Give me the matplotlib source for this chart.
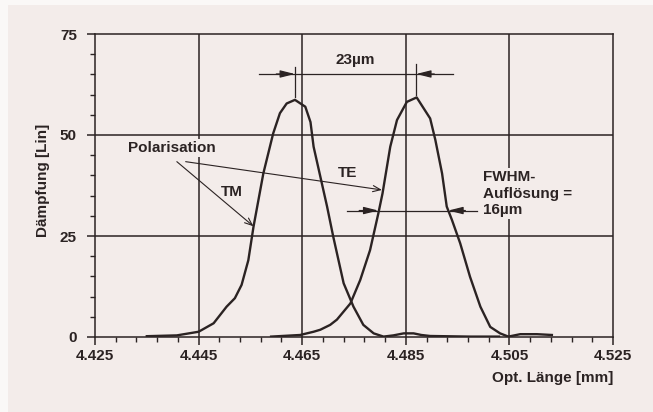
import matplotlib
matplotlib.use("Agg")
import matplotlib.pyplot as plt
from matplotlib.patches import Rectangle

# ---- data ----
tm_x = [4.4350, 4.4408, 4.4450, 4.4479, 4.4504, 4.4520, 4.4533, 4.4546, 4.4556,
        4.4575, 4.4594, 4.4607, 4.4620, 4.4636, 4.4656, 4.4666, 4.4672, 4.4685,
        4.4698, 4.4710, 4.4730, 4.4749, 4.4768, 4.4788, 4.4807, 4.4826, 4.4846,
        4.4865, 4.4880, 4.4897, 4.4974, 4.5030]
tm_y = [0.2, 0.4, 1.3, 3.4, 7.5, 9.6, 12.9, 19.0, 27.3,
        40.5, 50.4, 55.4, 57.8, 58.7, 57.0, 53.2, 47.1, 39.7,
        32.3, 24.8, 13.3, 7.5, 3.0, 0.9, 0.1, 0.4, 0.9,
        0.9, 0.5, 0.25, 0.1, 0.1]

te_x = [4.4590, 4.4646, 4.4672, 4.4685, 4.4704, 4.4717, 4.4743, 4.4762, 4.4781,
        4.4797, 4.4805, 4.4820, 4.4833, 4.4852, 4.4871, 4.4897, 4.4907, 4.4920,
        4.4929, 4.4939, 4.4955, 4.4974, 4.4994, 4.5013, 4.5032, 4.5048, 4.5071,
        4.5103, 4.5132]
te_y = [0.1, 0.5, 1.3, 1.8, 3.0, 4.3, 8.3, 14.1, 21.5,
        30.6, 35.5, 47.1, 53.7, 58.2, 59.3, 54.1, 48.8, 40.5,
        32.3, 29.0, 23.2, 14.9, 7.5, 2.5, 0.9, 0.1, 0.7,
        0.7, 0.5]

x_ticks = [4.425, 4.445, 4.465, 4.485, 4.505, 4.525]
x_ticklabels = ["4.425", "4.445", "4.465", "4.485", "4.505", "4.525"]
y_ticks = [0, 25, 50, 75]
y_ticklabels = ["0", "25", "50", "75"]

peak_tm, peak_te = 4.4636, 4.4870
fwhm_left, fwhm_right = 4.4797, 4.4932

# ---- style ----
paper = "#f3ecea"
ink = "#2b2323"
plt.rcParams["font.family"] = ["Liberation Sans", "DejaVu Sans"]
plt.rcParams["font.weight"] = "bold"
plt.rcParams["font.size"] = 11

fig = plt.figure(figsize=(6.53, 4.12), dpi=100, facecolor="#faf8f7")
fig.patches.append(Rectangle((8 / 653, 0), 1, 1 - 5 / 412, transform=fig.transFigure,
                             facecolor=paper, edgecolor="none", zorder=-10))
ax = fig.add_axes([95 / 653, 75 / 412, 518 / 653, 303 / 412])
ax.set_facecolor(paper)

ax.set_xlim(4.425, 4.525)
ax.set_ylim(0, 75)

for s in ax.spines.values():
    s.set_color(ink)
    s.set_linewidth(1.1)

ax.set_xticks(x_ticks)
ax.set_xticklabels(x_ticklabels)
ax.set_xticks([4.425 + 0.004 * i for i in range(26)], minor=True)
ax.set_yticks(y_ticks)
ax.set_yticklabels(y_ticklabels)
ax.set_yticks([5 * i for i in range(16)], minor=True)
ax.tick_params(axis="both", which="major", direction="out", length=6, width=1.1,
               color=ink, labelcolor=ink, labelsize=11)
ax.tick_params(axis="x", which="major", pad=3)
ax.tick_params(axis="y", which="major", pad=7)
ax.tick_params(axis="both", which="minor", direction="out", length=3.5, width=1.0,
               color=ink)

# grid
for gx in [4.445, 4.465, 4.485, 4.505]:
    ax.axvline(gx, color=ink, lw=1.1, zorder=1)
for gy in [25, 50]:
    ax.axhline(gy, color=ink, lw=1.1, zorder=1)

# curves
ax.plot(tm_x, tm_y, color=ink, lw=1.7, zorder=3, solid_joinstyle="round")
ax.plot(te_x, te_y, color=ink, lw=1.7, zorder=3, solid_joinstyle="round")

# 23 um dimension
dim_y = 65.1
ax.plot([4.4567, 4.4942], [dim_y, dim_y], color=ink, lw=0.9, zorder=4)
ax.plot([peak_tm, peak_tm], [59.3, 66.8], color=ink, lw=0.9, zorder=4)
ax.plot([peak_te, peak_te], [59.9, 67.6], color=ink, lw=0.9, zorder=4)
ap = dict(arrowstyle="-|>,head_length=0.8,head_width=0.2", color=ink, lw=0.9,
          shrinkA=0, shrinkB=0)
ax.annotate("", xy=(peak_tm, dim_y), xytext=(4.4600, dim_y), arrowprops=ap, zorder=4)
ax.annotate("", xy=(peak_te, dim_y), xytext=(4.4905, dim_y), arrowprops=ap, zorder=4)
ax.text(4.4753, 68.5, "23\u00b5m", ha="center", va="center", color=ink, fontsize=11)

# FWHM dimension
fw_y = 31.3
ax.plot([4.4737, 4.4987], [fw_y, fw_y], color=ink, lw=0.9, zorder=4)
ax.annotate("", xy=(fwhm_left, fw_y), xytext=(4.4760, fw_y), arrowprops=ap, zorder=4)
ax.annotate("", xy=(fwhm_right, fw_y), xytext=(4.4965, fw_y), arrowprops=ap, zorder=4)
ax.text(4.5000, 35.5, "FWHM-\nAufl\u00f6sung =\n16\u00b5m", ha="left", va="center",
        color=ink, fontsize=11, linespacing=1.25,
        bbox=dict(facecolor=paper, edgecolor="none", pad=1.5), zorder=5)

# Polarisation labels
ax.text(4.4399, 46.8, "Polarisation", ha="center", va="center", color=ink,
        fontsize=11, bbox=dict(facecolor=paper, edgecolor="none", pad=1.5), zorder=5)
ap2 = dict(arrowstyle="->,head_length=0.5,head_width=0.2", color=ink, lw=0.8,
           shrinkA=0, shrinkB=0)
ax.annotate("", xy=(4.4556, 27.4), xytext=(4.4408, 43.4), arrowprops=ap2, zorder=4)
ax.annotate("", xy=(4.4804, 36.4), xytext=(4.4425, 43.4), arrowprops=ap2, zorder=4)
ax.text(4.4515, 35.9, "TM", ha="center", va="center", color=ink, fontsize=11)
ax.text(4.4737, 40.6, "TE", ha="center", va="center", color=ink, fontsize=11)

# axis labels
fig.text(43 / 653, 1 - 180 / 412, "D\u00e4mpfung [Lin]", rotation=90, ha="center",
         va="center", color=ink, fontsize=11)
fig.text(613 / 653, 1 - 378 / 412, "Opt. L\u00e4nge [mm]", ha="right", va="center",
         color=ink, fontsize=11)

fig.savefig("out.png", dpi=100, facecolor=fig.get_facecolor())
